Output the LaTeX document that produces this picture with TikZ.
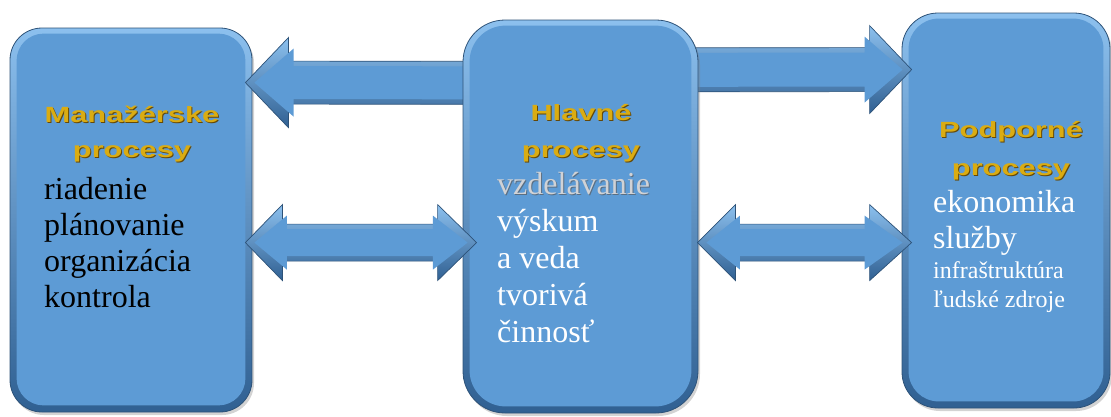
\documentclass[tikz,border=0pt]{standalone}
\usepackage{fontspec}
\setmainfont{Liberation Serif}
\newfontfamily\titlefont{Liberation Sans}
\usetikzlibrary{calc,shadows}
\definecolor{boxblue}{RGB}{93,155,213}
\definecolor{boxlight}{RGB}{140,192,238}
\definecolor{boxdark}{RGB}{48,96,146}
\definecolor{edgeblue}{RGB}{45,82,120}
\definecolor{gold}{RGB}{218,172,18}
\definecolor{goldshadow}{RGB}{100,72,8}
\definecolor{paleword}{RGB}{208,210,214}
\definecolor{paleshadow}{RGB}{90,110,130}
\tikzset{
  procbox/.style={rectangle, rounded corners=#1, draw=edgeblue, line width=0.8pt,
    top color=boxlight, bottom color=boxdark, inner sep=0pt,
    drop shadow={shadow xshift=2pt, shadow yshift=-3pt, opacity=0.35}},
  face/.style={fill=boxblue},
  arrowbody/.style={top color=boxlight, bottom color=boxdark, draw=edgeblue, line width=0.7pt},
  arrowface/.style={fill=boxblue},
  titletext/.style={inner sep=0pt, anchor=base, text=gold, font=\titlefont\bfseries\fontsize{22}{22}\selectfont},
  titleshade/.style={inner sep=0pt, anchor=base, text=goldshadow, font=\titlefont\bfseries\fontsize{22}{22}\selectfont},
  itemtext/.style={inner sep=0pt, anchor=base west, font=\fontsize{32}{37}\selectfont},
  smalltext/.style={inner sep=0pt, anchor=base west, font=\fontsize{24}{28}\selectfont, text=white},
}
\newcommand{\wt}[1]{\scalebox{1.4}[1]{#1}}
% single arrow: tail, tip, shaft half, head half, signed head length
\newcommand{\arrowone}[5]{%
  \path[arrowbody] ($(#1)+(0,-#3)$) -- ($(#2)+(#5,-#3)$) -- ($(#2)+(#5,-#4)$) -- (#2)
    -- ($(#2)+(#5,#4)$) -- ($(#2)+(#5,#3)$) -- ($(#1)+(0,#3)$) -- cycle;
  \fill[arrowface] ($(#1)+(0,-#3+5)$) -- ($(#2)+(#5*1.12,-#3+5)$) -- ($(#2)+(#5*1.12,-#4+11)$)
    -- ($(#2)!9pt!(#1)$) -- ($(#2)+(#5*1.12,#4-11)$) -- ($(#2)+(#5*1.12,#3-5)$)
    -- ($(#1)+(0,#3-5)$) -- cycle;
}
% double arrow: tip1, tip2, shaft half, head half, signed head lengths
\newcommand{\arrowtwo}[6]{%
  \path[arrowbody] (#1) -- ($(#1)+(#5,-#4)$) -- ($(#1)+(#5,-#3)$) -- ($(#2)+(#6,-#3)$)
    -- ($(#2)+(#6,-#4)$) -- (#2) -- ($(#2)+(#6,#4)$) -- ($(#2)+(#6,#3)$)
    -- ($(#1)+(#5,#3)$) -- ($(#1)+(#5,#4)$) -- cycle;
  \fill[arrowface] ($(#1)!9pt!(#2)$) -- ($(#1)+(#5*1.12,-#4+11)$) -- ($(#1)+(#5*1.12,-#3+5)$)
    -- ($(#2)+(#6*1.12,-#3+5)$) -- ($(#2)+(#6*1.12,-#4+11)$) -- ($(#2)!9pt!(#1)$)
    -- ($(#2)+(#6*1.12,#4-11)$) -- ($(#2)+(#6*1.12,#3-5)$) -- ($(#1)+(#5*1.12,#3-5)$)
    -- ($(#1)+(#5*1.12,#4-11)$) -- cycle;
}
\begin{document}
\begin{tikzpicture}[x=1pt,y=-1pt]
\useasboundingbox (0,0) rectangle (1111,416);
% side boxes
\node[procbox=32, minimum width=242pt, minimum height=384pt] (L) at (131,220) {};
\fill[face, rounded corners=27] ($(L.north west)+(7,6)$) rectangle ($(L.south east)+(-7,-7)$);
\node[procbox=36, minimum width=208pt, minimum height=395pt] (R) at (1006,210.5) {};
\fill[face, rounded corners=30] ($(R.north west)+(7,6)$) rectangle ($(R.south east)+(-7,-7)$);
% middle box geometry (drawn later)
\path (580.5,216.5) node[minimum width=235pt, minimum height=393pt, inner sep=0pt] (Mg) {};
% top arrows (under middle box)
\coordinate (tlTip) at ($(L.north east)+(-7,55)$);
\coordinate (tlTail) at ($(Mg.north west)+(8,63)$);
\coordinate (trTail) at ($(Mg.north east)+(-8,50)$);
\coordinate (trTip) at ($(R.north west)+(10,57)$);
\arrowone{tlTail}{tlTip}{21.5}{45}{43}
\arrowone{trTail}{trTip}{22}{44}{-42}
% middle box
\node[procbox=42, minimum width=235pt, minimum height=393pt] (M) at (Mg) {};
\fill[face, rounded corners=36] ($(M.north west)+(7,6)$) rectangle ($(M.south east)+(-7,-7)$);
% bottom double arrows
\coordinate (blTipL) at ($(L.north east)+(-7,215)$);
\coordinate (blTipR) at ($(M.north west)+(14,223)$);
\coordinate (brTipL) at ($(M.north east)+(-1,223)$);
\coordinate (brTipR) at ($(R.north west)+(10,230)$);
\arrowtwo{blTipL}{blTipR}{18.5}{38}{37}{-39}
\arrowtwo{brTipL}{brTipR}{18.5}{38}{38}{-42}
% titles
\node[titleshade] (t1s) at (133,123) {\wt{Manažérske}};
\node[titletext] (t1) at (132,122) {\wt{Manažérske}};
\node[titleshade] (t2s) at (133,158) {\wt{procesy}};
\node[titletext] (t2) at (132,157) {\wt{procesy}};
\node[titleshade] (t3s) at (582,121) {\wt{Hlavné}};
\node[titletext] (t3) at (581,120) {\wt{Hlavné}};
\node[titleshade] (t4s) at (582,158) {\wt{procesy}};
\node[titletext] (t4) at (581,157) {\wt{procesy}};
\node[titleshade] (t5s) at (1012,138) {\wt{Podporné}};
\node[titletext] (t5) at (1011,137) {\wt{Podporné}};
\node[titleshade] (t6s) at (1012,176) {\wt{procesy}};
\node[titletext] (t6) at (1011,175) {\wt{procesy}};
% left list
\node[itemtext, text=black] (l1) at (44,199) {riadenie};
\node[itemtext, text=black] (l2) at (44,235) {plánovanie};
\node[itemtext, text=black] (l3) at (44,271) {organizácia};
\node[itemtext, text=black] (l4) at (44,307) {kontrola};
% middle list
\node[itemtext, text=paleshadow] (m1s) at (498,195) {vzdelávanie};
\node[itemtext, text=paleword] (m1) at (497,194) {vzdelávanie};
\node[itemtext, text=white] (m2) at (497,231) {výskum};
\node[itemtext, text=white] (m3) at (497,268) {a veda};
\node[itemtext, text=white] (m4) at (497,305) {tvorivá};
\node[itemtext, text=white] (m5) at (497,342) {činnosť};
% right list
\node[itemtext, text=white] (r1) at (933,212) {ekonomika};
\node[itemtext, text=white] (r2) at (933,248) {služby};
\node[smalltext] (r3) at (933,278) {infraštruktúra};
\node[smalltext] (r4) at (933,307) {ľudské zdroje};
\end{tikzpicture}
\end{document}
